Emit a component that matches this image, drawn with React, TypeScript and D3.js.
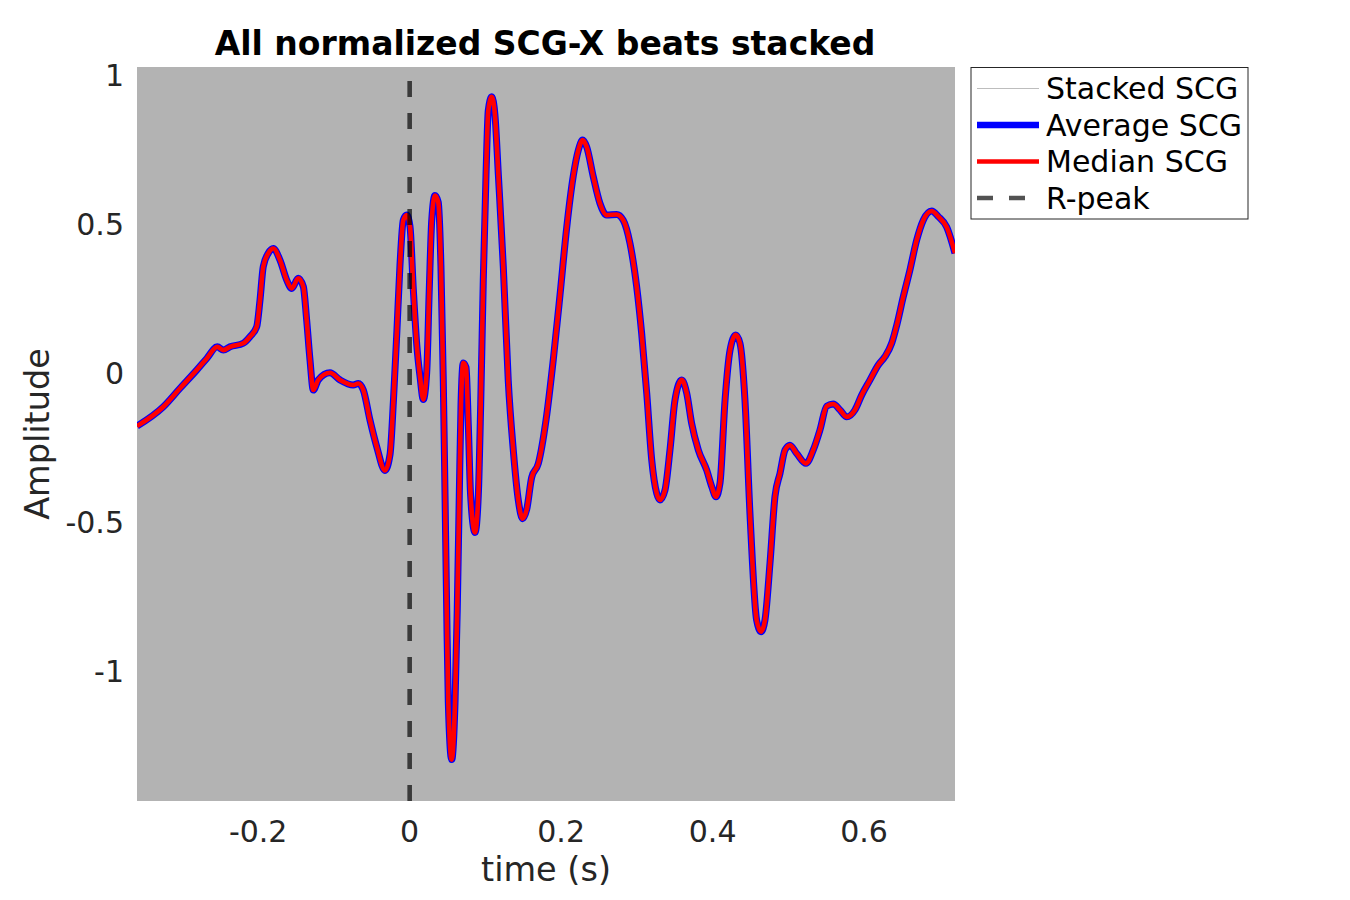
import React from "react";
import * as d3 from "d3";

// time (s) of traced samples
const timeS = [
  -0.36, -0.3252, -0.3032, -0.2812, -0.2679, -0.254, -0.246, -0.2372, -0.2197, -0.2109,
  -0.202, -0.1976, -0.1933, -0.1867, -0.18, -0.1712, -0.1623, -0.1557, -0.1471, -0.1404,
  -0.136, -0.1316, -0.1272, -0.1207, -0.1052, -0.092, -0.0745, -0.0678, -0.0612, -0.0524,
  -0.0435, -0.0326, -0.0259, -0.0214, -0.0168, -0.0128, -0.0084, -0.0039, 0.0004, 0.0048,
  0.0093, 0.0137, 0.018, 0.0225, 0.0259, 0.0291, 0.0334, 0.0377, 0.0413, 0.0444,
  0.0467, 0.0489, 0.051, 0.0555, 0.0599, 0.0628, 0.0655, 0.0678, 0.0708, 0.0744,
  0.0775, 0.0805, 0.0863, 0.0906, 0.0938, 0.0972, 0.1008, 0.1038, 0.1083, 0.1126,
  0.1171, 0.1236, 0.1302, 0.1368, 0.1434, 0.1492, 0.1545, 0.1611, 0.1698, 0.18,
  0.1897, 0.1985, 0.2074, 0.216, 0.2227, 0.2284, 0.2337, 0.2424, 0.2513, 0.2601,
  0.2733, 0.282, 0.2909, 0.2997, 0.3063, 0.313, 0.3196, 0.3262, 0.3305, 0.3371,
  0.3437, 0.3503, 0.3592, 0.3658, 0.3723, 0.3811, 0.3922, 0.3988, 0.4044, 0.4097,
  0.4164, 0.423, 0.4305, 0.4361, 0.4427, 0.4494, 0.4581, 0.4639, 0.4691, 0.4757,
  0.4823, 0.489, 0.4956, 0.5021, 0.511, 0.5232, 0.5329, 0.5417, 0.5506, 0.5593,
  0.5682, 0.577, 0.5879, 0.5968, 0.6078, 0.6187, 0.6275, 0.6364, 0.6431, 0.6517,
  0.6605, 0.6694, 0.6781, 0.6892, 0.698, 0.709, 0.72,
];

// median SCG-X beat (normalized amplitude)
const medianSCG = [
  -0.178, -0.113, -0.051, 0.01, 0.049, 0.088, 0.077, 0.088, 0.1, 0.122,
  0.155, 0.245, 0.357, 0.402, 0.418, 0.379, 0.312, 0.284, 0.318, 0.29,
  0.178, 0.044, -0.057, -0.023, 0.001, -0.023, -0.04, -0.035, -0.057, -0.158,
  -0.247, -0.327, -0.273, -0.091, 0.144, 0.362, 0.513, 0.53, 0.493, 0.282,
  0.097, -0.012, -0.089, 0.003, 0.282, 0.511, 0.596, 0.574, 0.358, -0.027,
  -0.412, -0.797, -1.104, -1.297, -1.104, -0.797, -0.412, -0.104, 0.034, 0.019,
  -0.181, -0.412, -0.535, -0.412, -0.104, 0.312, 0.665, 0.881, 0.927, 0.866,
  0.665, 0.358, -0.027, -0.258, -0.426, -0.489, -0.458, -0.35, -0.304, -0.158,
  0.047, 0.262, 0.49, 0.661, 0.748, 0.782, 0.759, 0.659, 0.569, 0.53,
  0.532, 0.513, 0.435, 0.29, 0.133, -0.068, -0.292, -0.404, -0.426, -0.393,
  -0.258, -0.091, -0.023, -0.068, -0.169, -0.258, -0.326, -0.381, -0.415, -0.37,
  -0.091, 0.077, 0.128, 0.1, -0.091, -0.477, -0.829, -0.868, -0.829, -0.639,
  -0.415, -0.336, -0.258, -0.242, -0.27, -0.303, -0.258, -0.191, -0.111, -0.104,
  -0.124, -0.147, -0.124, -0.074, -0.023, 0.027, 0.055, 0.1, 0.161, 0.256,
  0.346, 0.446, 0.513, 0.544, 0.525, 0.49, 0.402,
];

// average beat coincides with the median at this scale
const averageSCG = medianSCG;

const xTicks = [-0.2, 0, 0.2, 0.4, 0.6];
const yTicks = [-1, -0.5, 0, 0.5, 1];
const xDomain = [-0.36, 0.72];
const yDomain = [-1.436, 1.027];
const rPeakTime = 0;

const legendItems = ["Stacked SCG", "Average SCG", "Median SCG", "R-peak"];

const W = 1350;
const H = 900;
const PL = 137;
const PR = 955;
const PT = 67;
const PB = 801;
const FONT = "'DejaVu Sans', sans-serif";

export default function App() {
  const x = d3.scaleLinear().domain(xDomain).range([PL, PR]);
  const y = d3.scaleLinear().domain(yDomain).range([PB, PT]);

  const mkLine = (vals: number[]) =>
    d3
      .line<number>()
      .x((_, i) => x(timeS[i]))
      .y((d) => y(d))
      .curve(d3.curveMonotoneX)(vals) || "";

  const fmt = (v: number) => (v === 0 ? "0" : String(v));

  const lx0 = 977;
  const lx1 = 1039;
  const rowY = [88.5, 125, 161.5, 198];

  return (
    <svg
      width={W}
      height={H}
      style={{ position: "absolute", left: 0, top: 0, background: "#fff" }}
      fontFamily={FONT}
    >
      <rect x={0} y={0} width={W} height={H} fill="#fff" />
      <rect x={PL} y={PT} width={PR - PL} height={PB - PT} fill="#b3b3b3" />

      <defs>
        <clipPath id="plotclip">
          <rect x={PL} y={PT} width={PR - PL} height={PB - PT} />
        </clipPath>
      </defs>

      <g clipPath="url(#plotclip)">
        <path d={mkLine(averageSCG)} fill="none" stroke="#0000ff" strokeWidth={7} strokeLinejoin="round" />
        <path d={mkLine(medianSCG)} fill="none" stroke="#ff0000" strokeWidth={4.6} strokeLinejoin="round" />
        <line
          x1={x(rPeakTime)}
          x2={x(rPeakTime)}
          y1={PB}
          y2={PT}
          stroke="#000"
          strokeOpacity={0.68}
          strokeWidth={4.6}
          strokeDasharray="16,16"
        />
      </g>

      {xTicks.map((t) => (
        <text key={t} x={x(t)} y={842} textAnchor="middle" fontSize={30} fill="#262626">
          {fmt(t)}
        </text>
      ))}
      {yTicks.map((t) => (
        <text key={t} x={124} y={y(t)} dy="0.36em" textAnchor="end" fontSize={30} fill="#262626">
          {fmt(t)}
        </text>
      ))}

      <text x={(PL + PR) / 2} y={881} textAnchor="middle" fontSize={33.5} fill="#262626">
        time (s)
      </text>
      <text
        transform={`translate(49, ${(PT + PB) / 2}) rotate(-90)`}
        textAnchor="middle"
        fontSize={33.5}
        fill="#262626"
      >
        Amplitude
      </text>

      <text x={545} y={55} textAnchor="middle" fontSize={33} fontWeight="bold" fill="#000">
        All normalized SCG-X beats stacked
      </text>

      <rect x={971} y={67.5} width={277} height={151.5} fill="#fff" stroke="#262626" strokeWidth={1} />
      <line x1={lx0} x2={lx1} y1={rowY[0]} y2={rowY[0]} stroke="#bdbdbd" strokeWidth={1} />
      <line x1={lx0} x2={lx1} y1={rowY[1]} y2={rowY[1]} stroke="#0000ff" strokeWidth={6.5} />
      <line x1={lx0} x2={lx1} y1={rowY[2]} y2={rowY[2]} stroke="#ff0000" strokeWidth={4.6} />
      <line
        x1={lx0}
        x2={lx1}
        y1={rowY[3]}
        y2={rowY[3]}
        stroke="#000"
        strokeOpacity={0.68}
        strokeWidth={4.6}
        strokeDasharray="16,16"
      />
      {legendItems.map((s, i) => (
        <text key={s} x={1046} y={rowY[i]} dy="0.36em" fontSize={30} fill="#000">
          {s}
        </text>
      ))}
    </svg>
  );
}
